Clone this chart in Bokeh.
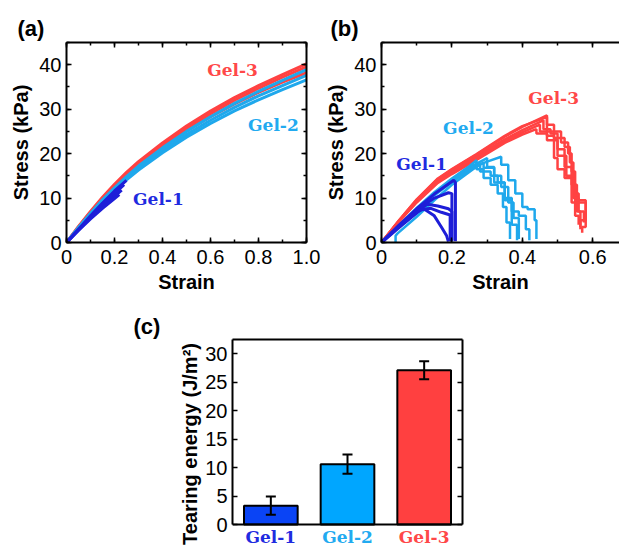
from bokeh.plotting import figure
from bokeh.models import (Range1d, FactorRange, LinearAxis, CategoricalAxis,
                          Label, LabelSet, ColumnDataSource, Whisker, Span,
                          SingleIntervalTicker, TeeHead, CustomJSTickFormatter,
                          Title)
from bokeh.core.properties import value
from bokeh.layouts import column, row
from bokeh.embed import file_html
from bokeh.resources import INLINE

# ---------------- data ----------------
gels = ["Gel-1", "Gel-2", "Gel-3"]
line_colors = ["#1e1ed8", "#1fa8ec", "#ff4242"]
text_colors = ["#1f2be0", "#22aaf0", "#ff4848"]
bar_colors = ["#0a44f5", "#00a6ff", "#ff4040"]

# (a) tensile stress-strain curves
strain_a = [0, 0.05, 0.1, 0.15, 0.2, 0.25, 0.3, 0.4, 0.5, 0.6, 0.7, 0.8, 0.9, 1.0]
gel3_a = [
    [0, 3.6, 7.0, 10.2, 13.1, 15.8, 18.2, 22.4, 26.2, 29.6, 32.6, 35.3, 37.8, 40.2],
    [0, 3.5, 6.8, 9.9, 12.8, 15.4, 17.8, 22.0, 25.7, 29.0, 32.0, 34.7, 37.2, 39.5],
    [0, 3.4, 6.7, 9.7, 12.5, 15.0, 17.4, 21.5, 25.1, 28.3, 31.2, 33.8, 36.1, 38.2],
]
gel2_a = [
    [0, 3.4, 6.6, 9.6, 12.3, 14.8, 17.2, 21.3, 25.0, 28.3, 31.3, 34.0, 36.5, 38.9],
    [0, 3.3, 6.4, 9.3, 12.0, 14.4, 16.7, 20.7, 24.3, 27.5, 30.4, 33.0, 35.3, 37.6],
    [0, 3.2, 6.3, 9.1, 11.7, 14.1, 16.3, 20.2, 23.7, 26.8, 29.6, 32.1, 34.4, 36.6],
]
strain_g1_a = [
    [0, 0.05, 0.1, 0.15, 0.2, 0.25],
    [0, 0.05, 0.1, 0.15, 0.2, 0.24],
    [0, 0.05, 0.1, 0.15, 0.2, 0.23],
    [0, 0.05, 0.1, 0.15, 0.2, 0.22],
]
gel1_a = [
    [0, 3.0, 6.0, 8.9, 11.6, 14.0],
    [0, 2.9, 5.7, 8.4, 11.0, 13.0],
    [0, 2.8, 5.5, 8.0, 10.4, 11.8],
    [0, 2.7, 5.3, 7.7, 9.9, 10.8],
]

# (b) tearing curves (strain, stress)
gel1_b_x = [
    [0, 0.05, 0.10, 0.15, 0.205, 0.21, 0.21],
    [0, 0.05, 0.10, 0.15, 0.19, 0.20, 0.20],
    [0, 0.05, 0.10, 0.13, 0.16, 0.19, 0.20, 0.20],
    [0, 0.05, 0.10, 0.12, 0.15, 0.17, 0.185, 0.19],
    [0, 0.06, 0.11, 0.14, 0.17, 0.195, 0.195],
]
gel1_b_y = [
    [0, 3.9, 7.6, 10.9, 14.0, 13.5, 0.3],
    [0, 3.8, 7.3, 10.0, 11.2, 11.0, 0.5],
    [0, 3.7, 7.0, 8.6, 8.2, 7.6, 7.0, 0.2],
    [0, 3.6, 6.8, 7.6, 6.0, 3.5, 1.5, 0.2],
    [0, 4.0, 7.3, 7.7, 6.8, 6.2, 0.3],
]
gel2_b_x = [
    [0, 0.05, 0.10, 0.15, 0.20, 0.25, 0.27, 0.27, 0.29, 0.29, 0.31, 0.31, 0.33, 0.33, 0.345, 0.345, 0.355, 0.355, 0.365, 0.365],
    [0, 0.05, 0.10, 0.15, 0.20, 0.25, 0.30, 0.30, 0.32, 0.32, 0.34, 0.34, 0.36, 0.36, 0.375, 0.375, 0.39, 0.39],
    [0, 0.05, 0.10, 0.15, 0.20, 0.25, 0.30, 0.34, 0.34, 0.36, 0.36, 0.38, 0.38, 0.40, 0.40, 0.415, 0.415, 0.435, 0.435, 0.44, 0.44],
    [0, 0.05, 0.10, 0.15, 0.20, 0.25, 0.28, 0.28, 0.31, 0.31, 0.33, 0.33, 0.35, 0.35, 0.37, 0.37, 0.39, 0.39, 0.41, 0.41, 0.42, 0.42],
    [0.04, 0.04, 0.045, 0.10, 0.15, 0.20, 0.26, 0.29, 0.29, 0.32, 0.32, 0.35, 0.35, 0.37, 0.37, 0.385, 0.385],
]
gel2_b_y = [
    [0, 3.9, 7.8, 11.3, 14.4, 17.2, 18.5, 16.5, 16.5, 14.5, 14.5, 13.0, 13.0, 11.0, 11.0, 8.0, 8.0, 4.5, 4.5, 0.8],
    [0, 3.8, 7.6, 11.0, 14.1, 16.9, 19.0, 17.0, 17.0, 15.0, 15.0, 12.5, 12.5, 9.0, 9.0, 5.5, 5.5, 0.8],
    [0, 3.8, 7.5, 10.9, 14.0, 16.7, 18.2, 19.3, 17.5, 17.5, 14.0, 14.0, 11.0, 11.0, 8.0, 8.0, 7.5, 7.5, 5.0, 5.0, 0.8],
    [0, 3.7, 7.3, 10.6, 13.6, 16.3, 17.5, 16.0, 16.0, 15.0, 15.0, 13.5, 13.5, 10.0, 10.0, 7.0, 7.0, 6.0, 6.0, 3.0, 3.0, 0.5],
    [0, 1.5, 2.0, 5.8, 9.5, 13.0, 16.5, 18.0, 16.8, 16.8, 13.5, 13.5, 9.5, 9.5, 4.0, 4.0, 0.5],
]
gel3_b_x = [
    [0, 0.05, 0.10, 0.16, 0.20, 0.27, 0.35, 0.40, 0.47, 0.47, 0.49, 0.49, 0.51, 0.51, 0.53, 0.53, 0.54, 0.54, 0.55, 0.55, 0.56, 0.56, 0.58, 0.58, 0.57, 0.57],
    [0, 0.05, 0.10, 0.16, 0.20, 0.27, 0.35, 0.40, 0.46, 0.46, 0.48, 0.48, 0.50, 0.50, 0.52, 0.52, 0.54, 0.54, 0.555, 0.555, 0.565, 0.565],
    [0, 0.05, 0.10, 0.16, 0.20, 0.27, 0.35, 0.40, 0.45, 0.45, 0.49, 0.49, 0.52, 0.52, 0.535, 0.535, 0.545, 0.545, 0.55, 0.55, 0.56, 0.56],
    [0, 0.05, 0.10, 0.16, 0.20, 0.27, 0.35, 0.40, 0.47, 0.47, 0.49, 0.49, 0.50, 0.50, 0.52, 0.52, 0.545, 0.545, 0.56, 0.56, 0.575, 0.575],
    [0, 0.05, 0.10, 0.16, 0.20, 0.27, 0.35, 0.40, 0.44, 0.44, 0.47, 0.47, 0.50, 0.50, 0.525, 0.525, 0.54, 0.54, 0.58, 0.58, 0.565, 0.565],
]
gel3_b_y = [
    [0, 5.0, 9.6, 14.3, 16.4, 19.8, 23.8, 26.0, 28.6, 26.5, 26.5, 25.0, 25.0, 22.5, 22.5, 20.0, 20.0, 16.0, 16.0, 11.0, 11.0, 9.5, 9.5, 3.5, 3.5, 2.2],
    [0, 4.9, 9.4, 14.0, 16.1, 19.4, 23.2, 25.3, 27.5, 25.5, 25.5, 24.5, 24.5, 21.0, 21.0, 17.0, 17.0, 13.0, 13.0, 7.0, 7.0, 3.0],
    [0, 4.8, 9.2, 13.6, 15.7, 19.0, 22.8, 24.8, 26.5, 25.0, 25.0, 23.5, 23.5, 21.5, 21.5, 18.0, 18.0, 12.0, 12.0, 6.0, 6.0, 4.0],
    [0, 5.0, 9.7, 14.4, 16.5, 19.9, 24.0, 26.2, 28.2, 24.0, 24.0, 19.0, 19.0, 16.5, 16.5, 14.5, 14.5, 10.0, 10.0, 7.0, 7.0, 4.5],
    [0, 4.7, 9.0, 13.4, 15.4, 18.6, 22.4, 24.3, 25.5, 24.5, 24.5, 23.0, 23.0, 19.5, 19.5, 15.0, 15.0, 9.0, 9.0, 5.0, 5.0, 3.5],
]

# (c) tearing energy
energy = [3.3, 10.6, 27.1]
energy_err = [1.6, 1.7, 1.6]
energy_max = 32.5

panel_names = ["(a)", "(b)", "(c)"]

# ---------------- helpers ----------------
NUM_FONT = "Liberation Sans"
TICK_SIZE = "20px"
LABEL_SIZE = "20px"
GEL_FONT = "DejaVu Serif"
GEL_SIZE = "17px"

fmt = CustomJSTickFormatter(code="return tick == 0 ? '0' : tick.toFixed(1);")


def style_axis(ax, labels=True):
    ax.axis_line_color = "black"
    ax.axis_line_width = 2
    ax.major_tick_in = 5
    ax.major_tick_out = 0
    ax.minor_tick_in = 3
    ax.minor_tick_out = 0
    ax.major_tick_line_width = 1.5
    ax.minor_tick_line_width = 1.5
    ax.major_tick_line_color = "black"
    ax.minor_tick_line_color = "black"
    ax.major_label_text_font = NUM_FONT
    ax.major_label_text_color = "black"
    ax.major_label_text_font_size = TICK_SIZE
    ax.axis_label_text_font = NUM_FONT
    ax.axis_label_text_font_style = "bold"
    ax.axis_label_text_font_size = LABEL_SIZE
    ax.axis_label_text_color = "black"
    if not labels:
        ax.formatter = CustomJSTickFormatter(code="return '';")
        ax.major_label_standoff = 0


def panel_title(p, text, offset, standoff):
    p.title.text = text
    p.title.align = "left"
    p.title.offset = offset
    p.title.standoff = standoff
    p.title.text_font = NUM_FONT
    p.title.text_font_style = "bold"
    p.title.text_font_size = "22px"
    p.title.text_color = "black"


def gel_label(p, text, x, y, color):
    p.add_layout(Label(x=x, y=y, text=text, text_font=GEL_FONT,
                       text_font_style="bold", text_font_size=GEL_SIZE,
                       text_align="center", text_baseline="middle",
                       text_color=color))


def make_xy_fig(width, xmax, border_left, border_right, full_frame, x_interval):
    p = figure(width=width, height=300, x_range=Range1d(0, xmax),
               y_range=Range1d(0, 45), output_backend="svg",
               toolbar_location=None, min_border_left=border_left,
               min_border_right=border_right, min_border_top=42,
               min_border_bottom=58)
    p.xgrid.visible = False
    p.ygrid.visible = False
    p.outline_line_color = None
    p.background_fill_color = "white"
    p.xaxis.ticker = SingleIntervalTicker(interval=x_interval, num_minor_ticks=2)
    p.xaxis.formatter = fmt
    p.yaxis.ticker = SingleIntervalTicker(interval=10, num_minor_ticks=2)
    p.xaxis.axis_label = "Strain"
    p.yaxis.axis_label = "Stress (kPa)"
    for ax in p.xaxis + p.yaxis:
        style_axis(ax)
    p.xaxis.major_label_standoff = 7
    p.xaxis.axis_label_standoff = 4
    p.yaxis.major_label_standoff = 5
    p.yaxis.axis_label_standoff = 4
    top = LinearAxis(ticker=SingleIntervalTicker(interval=x_interval, num_minor_ticks=2))
    style_axis(top, labels=False)
    p.add_layout(top, "above")
    if full_frame:
        right = LinearAxis(ticker=SingleIntervalTicker(interval=10, num_minor_ticks=2))
        style_axis(right, labels=False)
        p.add_layout(right, "right")
    return p


# ---------------- panel (a) ----------------
pa = make_xy_fig(322, 1.0, 66, 16, True, 0.2)
for ys in gel3_a:
    pa.line(strain_a, ys, line_color=line_colors[2], line_width=3)
for ys in gel2_a:
    pa.line(strain_a, ys, line_color=line_colors[1], line_width=3)
for xs, ys in zip(strain_g1_a, gel1_a):
    pa.line(xs, ys, line_color=line_colors[0], line_width=3)
gel_label(pa, gels[2], 0.692, 38.9, text_colors[2])
gel_label(pa, gels[1], 0.862, 26.5, text_colors[1])
gel_label(pa, gels[0], 0.383, 9.9, text_colors[0])
panel_title(pa, panel_names[0], -49, 4)

# ---------------- panel (b) ----------------
pb = make_xy_fig(297, 0.676, 59, 0, False, 0.2)
for xs, ys in zip(gel3_b_x, gel3_b_y):
    pb.line(xs, ys, line_color=line_colors[2], line_width=2.5)
for xs, ys in zip(gel2_b_x, gel2_b_y):
    pb.line(xs, ys, line_color=line_colors[1], line_width=2.5)
for xs, ys in zip(gel1_b_x, gel1_b_y):
    pb.line(xs, ys, line_color=line_colors[0], line_width=3)
gel_label(pb, gels[2], 0.489, 32.6, text_colors[2])
gel_label(pb, gels[1], 0.247, 25.8, text_colors[1])
gel_label(pb, gels[0], 0.114, 17.7, text_colors[0])
panel_title(pb, panel_names[1], -51, 4)

# ---------------- panel (c) ----------------
# The frame extends below zero so that the coloured category labels sit
# inside it; the visible box is drawn by bounded axes and a span at y=0.
src = ColumnDataSource(data=dict(
    gel=gels, energy=energy,
    upper=[e + d for e, d in zip(energy, energy_err)],
    lower=[e - d for e, d in zip(energy, energy_err)],
    bar=bar_colors, txt=text_colors,
))
pc = figure(width=482, height=248, x_range=FactorRange(factors=gels),
            y_range=Range1d(-4.216, energy_max), output_backend="svg",
            toolbar_location=None, min_border_left=232, min_border_right=20,
            min_border_top=39, min_border_bottom=0)
pc.xgrid.visible = False
pc.ygrid.visible = False
pc.outline_line_color = None
pc.xaxis.visible = False
pc.vbar(x="gel", top="energy", width=0.7, source=src, fill_color="bar",
        line_color="black", line_width=2)
pc.add_layout(Whisker(base="gel", upper="upper", lower="lower", source=src,
                      level="overlay", line_color="black", line_width=2,
                      upper_head=TeeHead(size=10, line_width=2, line_color="black"),
                      lower_head=TeeHead(size=10, line_width=2, line_color="black")))
pc.add_layout(Span(location=0, dimension="width", line_color="black",
                   line_width=2, level="overlay"))
pc.yaxis.ticker = SingleIntervalTicker(interval=5, num_minor_ticks=0)
style_axis(pc.yaxis[0])
pc.yaxis.bounds = (0, energy_max)
pc.yaxis.major_label_standoff = 5
rc = LinearAxis(ticker=SingleIntervalTicker(interval=5, num_minor_ticks=0),
                bounds=(0, energy_max))
style_axis(rc, labels=False)
pc.add_layout(rc, "right")
tc = CategoricalAxis()
style_axis(tc, labels=False)
tc.major_tick_line_color = None
tc.minor_tick_line_color = None
pc.add_layout(tc, "above")
pc.add_layout(Title(text="Tearing energy (J/m²)", align="center", offset=18,
                    standoff=4, text_font=NUM_FONT, text_font_style="bold",
                    text_font_size=LABEL_SIZE, text_color="black"), "left")
pc.add_layout(LabelSet(x="gel", y=-3.2, text="gel", source=src,
                       text_color="txt", text_font=value(GEL_FONT),
                       text_font_style="bold", text_font_size=value(GEL_SIZE),
                       text_align="center", text_baseline="alphabetic"))
panel_title(pc, panel_names[2], -99, 1)

layout = column(row(pa, pb), pc)
open("out.html", "w").write(file_html(layout, INLINE))
